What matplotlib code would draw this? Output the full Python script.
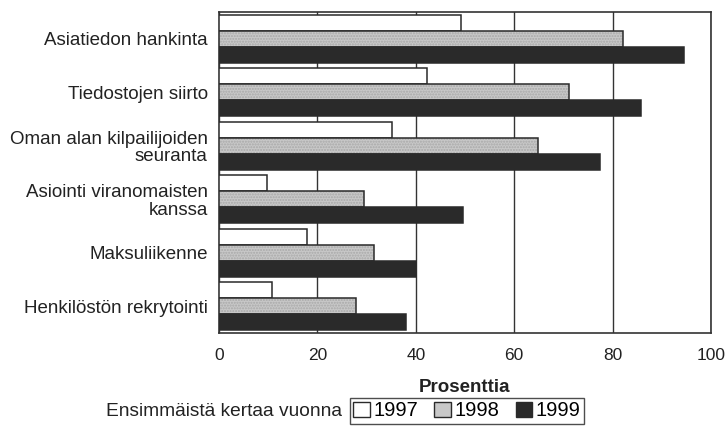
import matplotlib
matplotlib.use("Agg")
import matplotlib.pyplot as plt
import numpy as np
from matplotlib.patches import Patch

plt.rcParams['font.family'] = ['Liberation Sans', 'DejaVu Sans']

categories = ["Asiatiedon hankinta", "Tiedostojen siirto",
              "Oman alan kilpailijoiden\nseuranta",
              "Asiointi viranomaisten\nkanssa", "Maksuliikenne",
              "Henkilöstön rekrytointi"]
years = ["1997", "1998", "1999"]
v1997 = [49.2, 42.3, 35.1, 9.8, 17.9, 10.8]
v1998 = [82.1, 71.2, 64.8, 29.5, 31.5, 27.8]
v1999 = [94.5, 85.8, 77.4, 49.6, 40.0, 38.0]
xticks = [0, 20, 40, 60, 80, 100]

fig = plt.figure(figsize=(7.27, 4.28), dpi=100)
ax = fig.add_axes([219/727, 1-333/428, (711-219)/727, (333-12)/428])

y = np.arange(len(categories))
h = 0.3
faces = ['white', '#c8c8c8', '#2a2a2a']
hatches = [None, '......', None]
for k, vals in enumerate([v1997, v1998, v1999]):
    pos = y + (k-1)*h
    if hatches[k]:
        ax.barh(pos, vals, height=h, facecolor=faces[k], edgecolor='#a8a8a8',
                hatch=hatches[k], linewidth=0, zorder=3)
        ax.barh(pos, vals, height=h, fill=False, edgecolor='#2a2a2a',
                linewidth=1.1, zorder=4)
    else:
        ax.barh(pos, vals, height=h, facecolor=faces[k], edgecolor='#2a2a2a',
                linewidth=1.1, zorder=3)

ax.set_xlim(0, 100)
ax.set_ylim(len(categories)-0.5, -0.5)
ax.set_xticks(xticks)
ax.set_xticklabels([str(t) for t in xticks], fontsize=12.5, color='#222222')
ax.set_yticks(y)
ax.set_yticklabels(categories, fontsize=13.5, color='#222222', linespacing=1.05)
ax.tick_params(axis='y', length=0, pad=8)
ax.tick_params(axis='x', length=0, pad=11)
ax.xaxis.grid(True, color='#333333', linewidth=1.0, zorder=0)
ax.set_axisbelow(True)
for s in ax.spines.values():
    s.set_color('#333333')
    s.set_linewidth(1.2)
ax.set_xlabel("Prosenttia", fontsize=13.5, fontweight='bold', color='#222222', labelpad=11)

handles = [Patch(facecolor=faces[i], edgecolor='#2a2a2a', linewidth=1.0)
           for i in range(3)]
leg = fig.legend(handles, years, loc='center', bbox_to_anchor=(467/727, 1-411/428),
                 ncol=3, frameon=True, fancybox=False, edgecolor='#222222',
                 fontsize=14.5, handlelength=0.8, handleheight=0.8,
                 handletextpad=0.2, columnspacing=0.8, borderpad=0.15,
                 borderaxespad=0)
leg.get_frame().set_linewidth(1.0)
fig.text(342/727, 1-411/428, "Ensimmäistä kertaa vuonna", ha='right', va='center',
         fontsize=13.8, color='#222222')

fig.savefig("out.png", dpi=100)
